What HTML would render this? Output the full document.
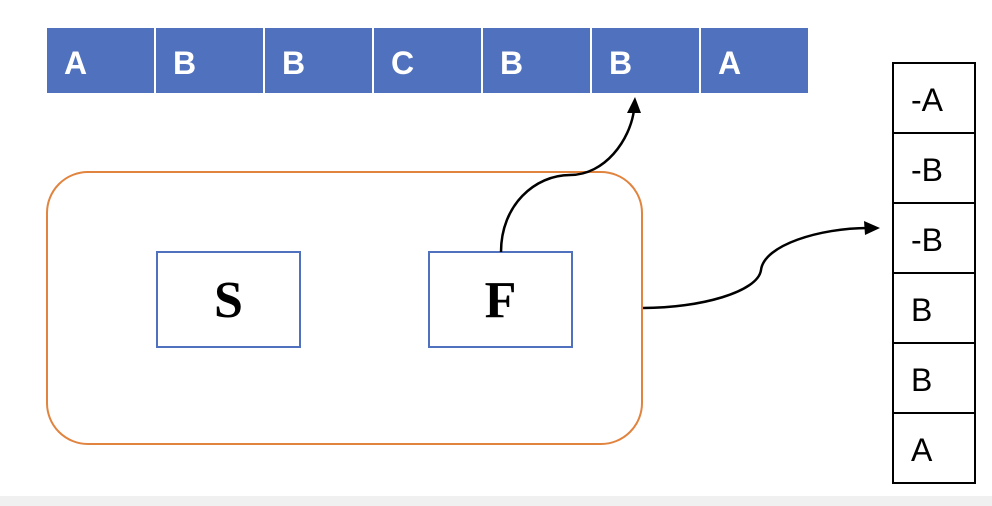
<!DOCTYPE html>
<html><head><meta charset="utf-8"><style>
body{margin:0;width:992px;height:506px;background:#fff;overflow:hidden;position:relative;font-family:"Liberation Sans",sans-serif}
.bar{position:absolute;left:47px;top:28px;height:65px;display:flex}
.bar div{width:107px;height:65px;background:#4f71be;color:#fff;font-weight:bold;font-size:32px;line-height:70px;padding-left:17px;box-sizing:border-box;margin-right:2px}
.col{position:absolute;left:892px;top:62px;width:84px;border:2px solid #000;box-sizing:border-box}
.col div{height:70px;border-bottom:2px solid #000;box-sizing:border-box;font-size:32px;line-height:72px;padding-left:17px}
.col div:last-child{border-bottom:none}
.box{position:absolute;width:145px;height:97px;border:2px solid #4f71be;box-sizing:border-box;text-align:center;font-family:"Liberation Serif",serif;font-weight:bold;font-size:52px;line-height:95px}
</style></head><body>
<div class="bar"><div>A</div><div>B</div><div>B</div><div>C</div><div>B</div><div>B</div><div>A</div></div>
<div style="position:absolute;left:46px;top:171px;width:597px;height:274px;border:2px solid #e0843f;border-radius:42px;box-sizing:border-box"></div>
<div class="box" style="left:156px;top:251px">S</div>
<div class="box" style="left:428px;top:251px">F</div>
<div class="col" style="height:422px"><div>-A</div><div>-B</div><div>-B</div><div>B</div><div>B</div><div>A</div></div>
<svg width="992" height="506" style="position:absolute;left:0;top:0">
<path d="M501 252 C501 205 535 175 570 175 C605 175 630 140 634 110" fill="none" stroke="#000" stroke-width="2.5"/>
<polygon points="635,97 627,113 641,113" fill="#000"/>
<path d="M643 308 C700 308 758 292 761 270 C764 245 820 228 868 228" fill="none" stroke="#000" stroke-width="2.5"/>
<polygon points="880,228 864,221 865,235" fill="#000"/>
</svg>
<div style="position:absolute;left:0;top:496px;width:992px;height:10px;background:#f0f0f0"></div>
</body></html>
